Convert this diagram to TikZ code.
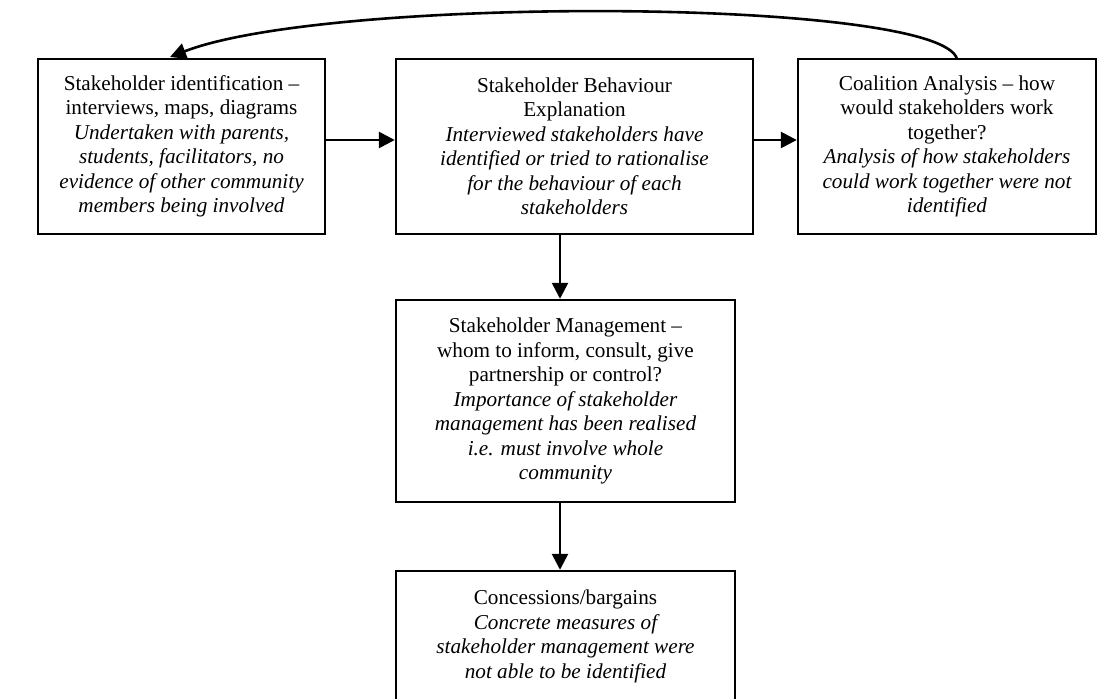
\documentclass[tikz,border=0pt]{standalone}
\usepackage{fontspec}
\setmainfont{Liberation Serif}
\usetikzlibrary{arrows.meta}
\begin{document}
\begin{tikzpicture}[x=0.5pt,y=-0.5pt,
  box/.style={draw,line width=1.2pt,align=center,inner sep=0pt,
    font=\fontsize{10.6}{12.25}\selectfont},
  arr/.style={line width=1.3pt,-{Triangle[length=8pt,width=8pt]}}]
\useasboundingbox (0,0) rectangle (1104,699);
\node[box,minimum width=143.5pt,minimum height=87.5pt] (b1) at (181.5,146.5)
 {Stakeholder identification --\\ interviews, maps, diagrams\\ \itshape Undertaken with parents,\\ \itshape students, facilitators, no\\ \itshape evidence of other community\\ \itshape members being involved};
\node[box,minimum width=178.5pt,minimum height=87.5pt] (b2) at (574.5,146.5)
 {Stakeholder Behaviour\\ Explanation\\ \itshape Interviewed stakeholders have\\ \itshape identified or tried to rationalise\\ \itshape for the behaviour of each\\ \itshape stakeholders};
\node[box,minimum width=149pt,minimum height=87.5pt] (b3) at (947,146.5)
 {Coalition Analysis -- how\\ would stakeholders work\\ together?\\ \itshape Analysis of how stakeholders\\ \itshape could work together were not\\ \itshape identified};
\node[box,minimum width=169.5pt,minimum height=101pt] (b4) at (565.5,401)
 {Stakeholder Management --\\ whom to inform, consult, give\\ partnership or control?\\ \itshape Importance of stakeholder\\ \itshape management has been realised\\ \itshape i.e. must involve whole\\ \itshape community};
\node[box,minimum width=169.5pt,minimum height=70pt] (b5) at (565.5,641)
 {Concessions/bargains\\ \itshape Concrete measures of\\ \itshape stakeholder management were\\ \itshape not able to be identified\\[-5.25pt]\mbox{}};
\draw[arr] ([yshift=3.25pt]b1.east) -- ([yshift=3.25pt]b2.west);
\draw[arr] ([yshift=3.25pt]b2.east) -- ([yshift=3.25pt]b3.west);
\draw[arr] ([xshift=-7.25pt]b2.south) -- ([xshift=-2.75pt]b4.north);
\draw[arr] ([xshift=-2.75pt]b4.south) -- ([xshift=-2.75pt]b5.north);
\coordinate (s) at (957,59);
\coordinate (e) at (170,57);
\draw[arr] (s) .. controls (940,-2) and (330,-5) .. (e);
\end{tikzpicture}
\end{document}
